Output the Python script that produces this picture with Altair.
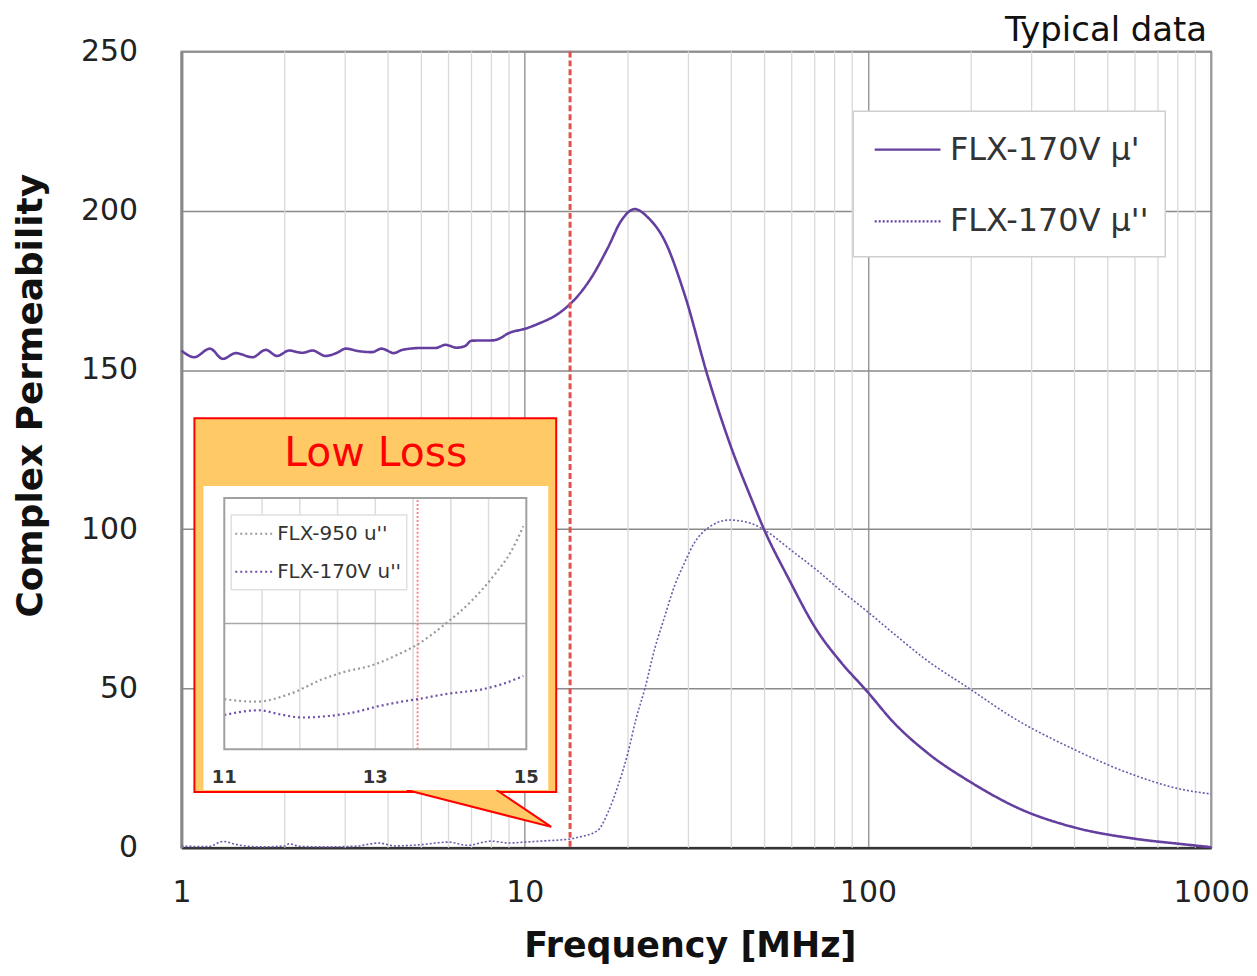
import altair as alt
import pandas as pd

# ---------------- data ----------------
S1 = "FLX-170V μ'"
S2 = "FLX-170V μ''"

freq_mu1 = [1.0, 1.09, 1.21, 1.32, 1.44, 1.61, 1.76, 1.90, 2.06, 2.25, 2.41, 2.63,
            2.84, 3.01, 3.29, 3.59, 3.83, 4.16, 4.39, 5.0, 5.5, 5.88, 6.34, 6.7,
            7.0, 8.1, 9.15, 10.0, 10.95, 12.5, 13.56, 14.3, 15.66, 17.5, 19.1,
            20.9, 22.9, 25.6, 29.2, 34.2, 39.9, 45.9, 49.9, 58.3, 71.3, 83.4,
            99.3, 119, 148.7, 199.4, 277.7, 396.7, 605, 809, 1000]
mu1 = [156.1, 154.0, 156.7, 153.5, 155.3, 154.0, 156.3, 154.4, 156.1, 155.4, 156.1,
       154.4, 155.4, 156.7, 155.9, 155.6, 156.7, 155.3, 156.3, 156.9, 156.9, 157.9,
       157.0, 157.5, 159.2, 159.3, 161.9, 162.9, 164.5, 167.6, 170.7, 173.3, 179.1,
       188.5, 196.8, 200.5, 197.8, 190.5, 173.9, 147.8, 125.9, 109.2, 99.8, 85.2,
       68.0, 58.3, 49.2, 39.3, 29.9, 20.6, 12.2, 6.5, 2.8, 1.25, 0.2]

freq_mu2 = [1.0, 1.2, 1.32, 1.45, 1.7, 2.0, 2.06, 2.2, 2.6, 3.2, 3.76, 4.2, 5.0, 6.0,
            6.8, 8.0, 9.0, 10.0, 11.5, 13.56, 14.3, 16.3, 17.5, 18.7, 20.0, 21.1,
            22.4, 23.9, 25.6, 27.3, 29.2, 31.2, 34.1, 39.5, 45.5, 49.9, 59.6, 71.3,
            81.2, 99.3, 121.5, 145, 199.4, 259.8, 396.7, 605, 809, 1000]
mu2 = [0.5, 0.4, 2.0, 1.0, 0.3, 0.6, 1.3, 0.5, 0.3, 0.5, 1.5, 0.6, 1.0, 1.8, 0.8,
       2.1, 1.5, 1.8, 2.2, 2.8, 3.3, 5.4, 11.2, 19.5, 29.9, 40.4, 50.0, 62.3, 72.7,
       82.1, 89.4, 95.7, 100.3, 102.9, 101.9, 99.8, 93.5, 87.0, 81.8, 74.3, 66.4,
       59.7, 49.7, 41.4, 31.0, 22.6, 18.5, 16.9]

x_ticks = [1, 10, 100, 1000]
minor_grid = [2, 3, 4, 5, 6, 7, 8, 9, 20, 30, 40, 50, 60, 70, 80, 90,
              200, 300, 400, 500, 600, 700, 800, 900]
y_ticks = [0, 50, 100, 150, 200, 250]
marker_freq = [13.56]

# inset (zoom of the loss curves around 13.56 MHz)
I1 = "FLX-950 u''"
I2 = "FLX-170V u''"
inset_f950 = [11.0, 11.42, 11.86, 12.30, 12.56, 13.0, 13.26, 13.56, 13.92, 14.27, 14.58, 14.80, 14.96]
inset_v950 = [1.99, 1.89, 2.19, 2.78, 3.05, 3.38, 3.71, 4.17, 4.97, 5.89, 6.95, 7.88, 8.87]
inset_f170 = [11.0, 11.46, 11.73, 12.03, 12.38, 12.74, 13.0, 13.35, 13.56, 13.97, 14.41, 14.67, 14.96]
inset_v170 = [1.36, 1.55, 1.39, 1.26, 1.32, 1.48, 1.68, 1.89, 1.99, 2.21, 2.38, 2.58, 2.91]
inset_x_domain = [11, 15]
inset_y_domain = [0, 10]
inset_x_ticks = [11, 13, 15]
inset_x_grid = [11.5, 12, 12.5, 13, 13.5, 14, 14.5]
inset_y_grid = [5]

FONT = "DejaVu Sans"
PURPLE = "#643f9f"
PURPLE2 = "#6e58aa"

# ---------------- main chart ----------------
df_main = pd.DataFrame({
    "f": freq_mu1 + freq_mu2,
    "v": mu1 + mu2,
    "series": [S1] * len(freq_mu1) + [S2] * len(freq_mu2),
})

xscale = alt.Scale(type="log", domain=[1, 1000], nice=False)
xaxis = alt.Axis(values=x_ticks, format="d", labelFont=FONT, labelFontSize=30,
                 labelColor="#222", labelPadding=54, labelBaseline="alphabetic",
                 labelFlush=False, labelOverlap=False, ticks=False, tickSize=0,
                 domainColor="#333", domainWidth=2.5, grid=True,
                 gridColor="#9a9a9a", gridWidth=1.5,
                 title="Frequency [MHz]", titleFont=FONT, titleFontSize=35,
                 titleFontWeight="bold", titleColor="#111", titleX=510, titleY=109,
                 titleBaseline="alphabetic", titleAlign="center")
yscale = alt.Scale(domain=[0, 250], nice=False)
yaxis = alt.Axis(values=y_ticks, labelFont=FONT, labelFontSize=30, labelColor="#222",
                 labelPadding=44, ticks=False, tickSize=0, domainColor="#888",
                 domainWidth=3, grid=True, gridColor="#8a8a8a", gridWidth=1.5,
                 title="Complex Permeability", titleFont=FONT, titleFontSize=36,
                 titleFontWeight="bold", titleColor="#111", titleX=-140, titleY=345,
                 titleAngle=270, titleBaseline="alphabetic", titleAlign="center")

X = alt.X("f:Q", scale=xscale, axis=xaxis)
Y = alt.Y("v:Q", scale=yscale, axis=yaxis)

legend_main = alt.Legend(
    orient="none", legendX=694, legendY=64, title=None, padding=0,
    labelFont=FONT, labelFontSize=32, labelColor="#333",
    labelLimit=400, labelOffset=8, symbolType="stroke",
    symbolSize=4356, symbolStrokeWidth=2.2, symbolStrokeColor=PURPLE, rowPadding=21)
color_main = alt.Color("series:N", scale=alt.Scale(domain=[S1, S2], range=[PURPLE, PURPLE2]),
                       legend=None)
dash_main = alt.StrokeDash("series:N", scale=alt.Scale(domain=[S1, S2], range=[[1, 0], [2, 2]]),
                           legend=legend_main)

minor = alt.Chart(pd.DataFrame({"f": minor_grid})).mark_rule(
    color="#d9d9d9", strokeWidth=1.3).encode(x=X)

base = alt.Chart(df_main)
line1 = base.transform_filter(alt.datum.series == S1).mark_line(
    strokeWidth=2.6, interpolate="monotone").encode(x=X, y=Y, color=color_main, strokeDash=dash_main)
line2 = base.transform_filter(alt.datum.series == S2).mark_line(
    strokeWidth=1.6, interpolate="monotone").encode(x=X, y=Y, color=color_main, strokeDash=dash_main)

marker = alt.Chart(pd.DataFrame({"f": marker_freq})).mark_rule(
    color="#e2504c", strokeWidth=3, strokeDash=[6, 3]).encode(x=X)

one = pd.DataFrame({"k": [0]})
legend_box = alt.Chart(one).mark_rect(fill="white", stroke="#cfcfcf", strokeWidth=1.5).encode(
    x=alt.value(674), x2=alt.value(987), y=alt.value(60), y2=alt.value(206))

typical = alt.Chart(pd.DataFrame({"t": ["Typical data"]})).mark_text(
    font=FONT, fontSize=34, color="#111", align="right", baseline="alphabetic").encode(
    text="t:N", x=alt.value(1029), y=alt.value(-10))

main = alt.layer(minor, line2, line1, marker, legend_box, typical)

# ---------------- inset ----------------
box = alt.Chart(one).mark_rect(fill="#FFC966", stroke="#FF0000", strokeWidth=2).encode(
    x=alt.value(13), x2=alt.value(376), y=alt.value(368), y2=alt.value(743))
pointer = alt.Chart(one).mark_point(
    shape="M 0 0 L 1.45 0.37 L 0.9 0", size=40000, filled=True, opacity=1,
    color="#FFC966", fill="#FFC966", stroke="#FF0000", strokeWidth=2).encode(
    x=alt.value(226), y=alt.value(741))
panel = alt.Chart(one).mark_rect(fill="white").encode(
    x=alt.value(22), x2=alt.value(368), y=alt.value(436), y2=alt.value(741))
lowloss = alt.Chart(pd.DataFrame({"t": ["Low Loss"]})).mark_text(
    font=FONT, fontSize=41, color="#FF0000", align="center", baseline="alphabetic").encode(
    text="t:N", x=alt.value(195), y=alt.value(416))

xi_scale = alt.Scale(domain=inset_x_domain, range=[43, 346], nice=False, zero=False)
yi_scale = alt.Scale(domain=inset_y_domain, range=[700, 448], nice=False, zero=False)

igrid_v = alt.Chart(pd.DataFrame({"t": inset_x_grid, "lo": inset_y_domain[0], "hi": inset_y_domain[1]})).mark_rule(
    color="#dcdcdc", strokeWidth=1.5).encode(
    x=alt.X("t:Q", scale=xi_scale, axis=None),
    y=alt.Y("lo:Q", scale=yi_scale, axis=None), y2="hi:Q")
igrid_h = alt.Chart(pd.DataFrame({"u": inset_y_grid, "a": inset_x_domain[0], "b": inset_x_domain[1]})).mark_rule(
    color="#a8a8a8", strokeWidth=1.5).encode(
    x=alt.X("a:Q", scale=xi_scale, axis=None), x2="b:Q",
    y=alt.Y("u:Q", scale=yi_scale, axis=None))
iframe = alt.Chart(pd.DataFrame({"a": [inset_x_domain[0]], "b": [inset_x_domain[1]],
                                 "lo": [inset_y_domain[0]], "hi": [inset_y_domain[1]]})).mark_rect(
    fillOpacity=0, stroke="#a0a0a0", strokeWidth=2).encode(
    x=alt.X("a:Q", scale=xi_scale, axis=None), x2="b:Q",
    y=alt.Y("lo:Q", scale=yi_scale, axis=None), y2="hi:Q")
imarker = alt.Chart(pd.DataFrame({"t": marker_freq, "lo": inset_y_domain[0], "hi": inset_y_domain[1]})).mark_rule(
    color="#f08a8a", strokeWidth=2, strokeDash=[2, 2]).encode(
    x=alt.X("t:Q", scale=xi_scale, axis=None),
    y=alt.Y("lo:Q", scale=yi_scale, axis=None), y2="hi:Q")
ilegend_box = alt.Chart(one).mark_rect(fill="white", stroke="#e0e0e0", strokeWidth=1.5).encode(
    x=alt.value(50), x2=alt.value(226), y=alt.value(465), y2=alt.value(540))

df_inset = pd.DataFrame({
    "t": inset_f950 + inset_f170,
    "u": inset_v950 + inset_v170,
    "name": [I1] * len(inset_f950) + [I2] * len(inset_f170),
})
icurves = alt.Chart(df_inset).mark_line(strokeWidth=2.2, strokeDash=[2, 3], interpolate="monotone").encode(
    x=alt.X("t:Q", scale=xi_scale, axis=None),
    y=alt.Y("u:Q", scale=yi_scale, axis=None),
    color=alt.Color("name:N", scale=alt.Scale(domain=[I1, I2], range=["#9a9a9a", "#6f50a8"]),
                    legend=alt.Legend(orient="none", legendX=53, legendY=464, title=None,
                                      padding=0, labelFont=FONT, labelFontSize=20,
                                      labelColor="#333", labelLimit=300, labelOffset=3,
                                      symbolType="stroke", symbolSize=1444,
                                      symbolStrokeWidth=2, symbolDash=[2, 3],
                                      rowPadding=8)),
    detail="name:N")
ilabels = alt.Chart(pd.DataFrame({"t": inset_x_ticks})).mark_text(
    font=FONT, fontSize=18, fontWeight="bold", color="#333", align="center",
    baseline="alphabetic").encode(
    x=alt.X("t:Q", scale=xi_scale, axis=None), y=alt.value(734), text=alt.Text("t:Q", format="d"))

inset = alt.layer(box, pointer, panel, lowloss, igrid_v, igrid_h, imarker, ilegend_box,
                  icurves, iframe, ilabels)

chart = alt.layer(main, inset).resolve_scale(
    x="independent", y="independent", color="independent"
).properties(
    width=1033, height=799,
    autosize=alt.AutoSizeParams(type="none"),
    padding={"left": 174, "top": 42, "right": 38, "bottom": 119},
).configure_view(stroke="#9a9a9a", strokeWidth=2)

chart.save("out.html", embed_options={"renderer": "svg", "actions": False})
